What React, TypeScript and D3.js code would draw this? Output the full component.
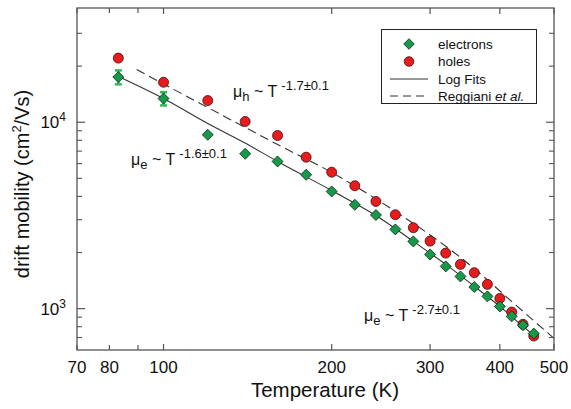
import React from "react";
import * as d3 from "d3";

// ---- data ----
const temps = [83, 100, 120, 140, 160, 180, 200, 220, 240, 260, 280, 300, 320, 340, 360, 380, 400, 420, 440, 460];
const electrons = [17470, 13400, 8560, 6772, 6158, 5225, 4252, 3607, 3178, 2661, 2295, 1954, 1685, 1489, 1306, 1164, 1028, 909, 814, 735];
const holes = [22080, 16380, 13070, 10090, 8487, 6494, 5396, 4562, 3758, 3190, 2717, 2303, 1986, 1727, 1559, 1350, 1135, 959, 824, 713];
const electronErr = [1500, 1100];

const logFitT = [83, 100, 120, 140, 160, 200, 240, 280, 320, 360, 400, 440, 467];
const logFitMu = [17600, 13400, 9841, 7727, 6158, 4300, 3160, 2295, 1727, 1318, 1028, 803, 693];

const reggT = [89.5, 120, 160, 200, 260, 340, 440, 500];
const reggMu = [19165, 11989, 7594, 5376, 3322, 1883, 967, 693];

const xTickVals = [70, 80, 90, 100, 200, 300, 400, 500];
const xTickLabels = ["70", "80", "", "100", "200", "300", "400", "500"];
const yMajor = [1000, 10000];
const yMinor = [700, 800, 900, 2000, 3000, 4000, 5000, 6000, 7000, 8000, 9000, 20000, 30000];

const legendLabels = ["electrons", "holes", "Log Fits", "Reggiani"];

const FONT = "'Liberation Sans', Arial, Helvetica, sans-serif";
const AX = "#555";
const GREEN = "#16994a";
const RED = "#e81c1c";

export default function App() {
  const L = 77, R = 554, T = 8, B = 350;
  const x = d3.scaleLog().domain([70, 500]).range([L, R]);
  const y = d3.scaleLog().domain([600, 41000]).range([B, T]);

  const line = d3
    .line<[number, number]>()
    .x((d) => x(d[0]))
    .y((d) => y(d[1]))
    .curve(d3.curveMonotoneX);

  const fitPath = line(logFitT.map((t, i) => [t, logFitMu[i]]) as [number, number][]) || "";
  const reggPath = line(reggT.map((t, i) => [t, reggMu[i]]) as [number, number][]) || "";

  const diamond = (cx: number, cy: number, r: number) =>
    `M${cx},${cy - r}L${cx + r},${cy}L${cx},${cy + r}L${cx - r},${cy}Z`;

  const annot = (xx: number, yy: number, sub: string, sup: string) => (
    <text x={xx} y={yy} fontSize={16} fill="#111">
      μ<tspan dy={4} fontSize={13}>{sub}</tspan>
      <tspan dy={-4}> ~ T </tspan>
      <tspan dy={-7} fontSize={13}>{sup}</tspan>
    </text>
  );

  return (
    <svg
      width={571}
      height={409}
      style={{ position: "absolute", left: 0, top: 0, background: "#fff" }}
      fontFamily={FONT}
    >
      <rect x={0} y={0} width={571} height={409} fill="#fff" />

      {/* fit lines */}
      <path d={reggPath} fill="none" stroke="#333" strokeWidth={1.1} strokeDasharray="9,5" />
      <path d={fitPath} fill="none" stroke="#333" strokeWidth={1.1} />

      {/* error bars (electrons) */}
      {electronErr.map((e, i) => {
        const cx = x(temps[i]);
        const y1 = y(electrons[i] + e);
        const y2 = y(electrons[i] - e);
        return (
          <g key={"eb" + i} stroke="#2dbb55" strokeWidth={2.5}>
            <line x1={cx} x2={cx} y1={y1} y2={y2} />
            <line x1={cx - 3.5} x2={cx + 3.5} y1={y1} y2={y1} />
            <line x1={cx - 3.5} x2={cx + 3.5} y1={y2} y2={y2} />
          </g>
        );
      })}

      {/* holes */}
      {holes.map((v, i) => (
        <circle key={"h" + i} cx={x(temps[i])} cy={y(v)} r={5} fill={RED} stroke="#3a1010" strokeWidth={0.8} />
      ))}
      {/* electrons */}
      {electrons.map((v, i) => (
        <path key={"e" + i} d={diamond(x(temps[i]), y(v), 5.5)} fill={GREEN} stroke="#0d2a14" strokeWidth={0.8} />
      ))}

      {/* frame */}
      <rect x={L} y={T} width={R - L} height={B - T} fill="none" stroke={AX} strokeWidth={1.3} />

      {/* x ticks */}
      {xTickVals.map((v, i) => {
        const px = x(v);
        const len = v === 100 || v >= 200 ? 6 : 5;
        return (
          <g key={"xt" + i}>
            <line x1={px} x2={px} y1={B} y2={B - len} stroke={AX} strokeWidth={1.2} />
            <line x1={px} x2={px} y1={T} y2={T + len} stroke={AX} strokeWidth={1.2} />
            {xTickLabels[i] && (
              <text x={px} y={373} fontSize={17} textAnchor="middle" fill="#111">
                {xTickLabels[i]}
              </text>
            )}
          </g>
        );
      })}

      {/* y ticks */}
      {yMajor.map((v, i) => {
        const py = y(v);
        return (
          <g key={"ym" + i}>
            <line x1={L} x2={L + 8} y1={py} y2={py} stroke={AX} strokeWidth={1.2} />
            <line x1={R} x2={R - 8} y1={py} y2={py} stroke={AX} strokeWidth={1.2} />
            <text x={66} y={py + 6} fontSize={17} textAnchor="end" fill="#111">
              10
              <tspan dy={-7} fontSize={12}>
                {String(Math.round(Math.log10(v)))}
              </tspan>
            </text>
          </g>
        );
      })}
      {yMinor.map((v, i) => {
        const py = y(v);
        return (
          <g key={"yn" + i}>
            <line x1={L} x2={L + 5} y1={py} y2={py} stroke={AX} strokeWidth={1.1} />
            <line x1={R} x2={R - 5} y1={py} y2={py} stroke={AX} strokeWidth={1.1} />
          </g>
        );
      })}

      {/* axis titles */}
      <text x={325} y={397} fontSize={20.5} textAnchor="middle" fill="#111">
        Temperature (K)
      </text>
      <text transform="translate(29,184) rotate(-90)" fontSize={20} textAnchor="middle" fill="#111">
        drift mobility (cm
        <tspan dy={-8} fontSize={13}>2</tspan>
        <tspan dy={8}>/Vs)</tspan>
      </text>

      {/* annotations */}
      {annot(233, 97, "h", "-1.7±0.1")}
      {annot(131, 165, "e", "-1.6±0.1")}
      {annot(364, 321, "e", "-2.7±0.1")}

      {/* legend */}
      <g>
        <rect x={381.5} y={29.5} width={155} height={74} fill="#fff" stroke="#222" strokeWidth={1} />
        <path d={diamond(409, 44, 5.3)} fill={GREEN} stroke="#0d2a14" strokeWidth={0.8} />
        <circle cx={409} cy={61.5} r={4.8} fill={RED} stroke="#3a1010" strokeWidth={0.8} />
        <line x1={390} x2={428} y1={79} y2={79} stroke="#333" strokeWidth={1.1} />
        <line x1={390} x2={428} y1={96} y2={96} stroke="#333" strokeWidth={1.1} strokeDasharray="8,5" />
        {legendLabels.map((lab, i) => (
          <text key={"lg" + i} x={438} y={49 + i * 17.3} fontSize={13.5} fill="#111">
            {lab}
            {i === 3 && <tspan fontStyle="italic"> et al.</tspan>}
          </text>
        ))}
      </g>
    </svg>
  );
}
